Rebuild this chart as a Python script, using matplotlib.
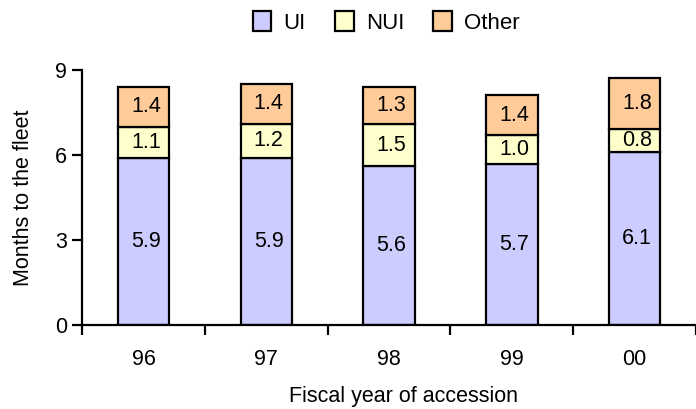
import matplotlib.pyplot as plt
import numpy as np

plt.rcParams["font.family"] = ["Liberation Sans", "DejaVu Sans"]

years = ["96", "97", "98", "99", "00"]
ui = [5.9, 5.9, 5.6, 5.7, 6.1]
nui = [1.1, 1.2, 1.5, 1.0, 0.8]
other = [1.4, 1.4, 1.3, 1.4, 1.8]

colors = ["#ccccff", "#ffffcc", "#ffcc99"]

fig = plt.figure(figsize=(6.96, 4.09), dpi=100)
ax = fig.add_axes([0.118, 0.205, 0.882, 0.624])

x = np.arange(len(years))
w = 0.42
bottom = np.zeros(len(years))
for vals, col, name in zip([ui, nui, other], colors, ["UI", "NUI", "Other"]):
    ax.bar(x, vals, w, bottom=bottom, color=col, edgecolor="black",
           linewidth=1.6, label=name, zorder=2)
    for xi, b, v in zip(x, bottom, vals):
        ax.text(xi + 0.02, b + v / 2, f"{v:.1f}", ha="center", va="center", fontsize=15.5)
    bottom += np.array(vals)

ax.set_xlim(-0.5, len(years) - 0.5)
ax.set_ylim(0, 9)
ax.set_yticks([0, 3, 6, 9])
ax.set_xticks(np.arange(len(years) + 1) - 0.5)
ax.set_xticklabels([])
ax.set_xticks(x, minor=True)
ax.set_xticklabels(years, minor=True)
ax.tick_params(axis="x", which="minor", length=0, pad=17, labelsize=15.5)
ax.tick_params(axis="x", which="major", length=7, width=1.6, direction="out")
ax.tick_params(axis="y", length=7, width=1.6, labelsize=15.5, pad=4)

for s in ["top", "right"]:
    ax.spines[s].set_visible(False)
ax.spines["left"].set_linewidth(1.6)
ax.spines["bottom"].set_linewidth(1.6)
ax.spines["bottom"].set_zorder(3)

ax.set_xlabel("Fiscal year of accession", fontsize=15.5)
ax.xaxis.set_label_coords(0.524, -0.238)
ax.set_ylabel("Months to the fleet", fontsize=15.5, labelpad=15)

fig.legend(loc="center", bbox_to_anchor=(0.555, 0.945), ncol=3, frameon=False,
           fontsize=16, handlelength=0.85, handleheight=1.0, columnspacing=1.3,
           handletextpad=0.55)

fig.savefig("out.png", dpi=100)
